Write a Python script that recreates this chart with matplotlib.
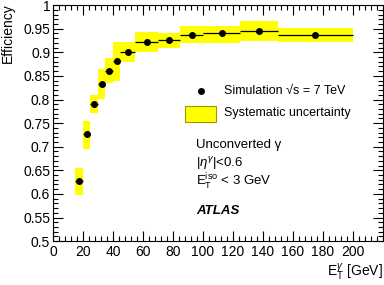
import numpy as np
import matplotlib
matplotlib.use("Agg")
import matplotlib.pyplot as plt
from matplotlib.patches import Rectangle
from matplotlib.ticker import MultipleLocator, FixedLocator

plt.rcParams['font.family'] = ['Liberation Sans', 'DejaVu Sans']
plt.rcParams['mathtext.fontset'] = 'custom'
plt.rcParams['mathtext.rm'] = 'Liberation Sans'
plt.rcParams['mathtext.it'] = 'Liberation Sans:italic'

# data
bin_lo = [15, 20, 25, 30, 35, 40, 45, 55, 70, 85, 100, 125, 150]
bin_hi = [20, 25, 30, 35, 40, 45, 55, 70, 85, 100, 125, 150, 200]
eff = [0.627, 0.726, 0.790, 0.832, 0.860, 0.881, 0.901, 0.922, 0.927, 0.937, 0.940, 0.945, 0.937]
sys_lo = [0.597, 0.696, 0.771, 0.801, 0.834, 0.839, 0.880, 0.901, 0.910, 0.919, 0.920, 0.924, 0.921]
sys_hi = [0.654, 0.754, 0.809, 0.864, 0.888, 0.922, 0.922, 0.944, 0.942, 0.955, 0.955, 0.967, 0.951]
x_ticks = [0, 20, 40, 60, 80, 100, 120, 140, 160, 180, 200]

lo = np.array(bin_lo)
hi = np.array(bin_hi)
centers = (lo + hi) / 2
half = (hi - lo) / 2

fig = plt.figure(figsize=(3.84, 2.85), dpi=100)
ax = fig.add_axes([0.138, 0.154, 0.859, 0.828])

yellow = '#ffff00'
for i in range(len(bin_lo)):
    ax.add_patch(Rectangle((bin_lo[i], sys_lo[i]), bin_hi[i] - bin_lo[i],
                           sys_hi[i] - sys_lo[i], facecolor=yellow, edgecolor='none', zorder=1))

ax.errorbar(centers, eff, xerr=half, fmt='o', color='black', markersize=4,
            elinewidth=0.9, capsize=0, zorder=3)

ax.set_xlim(0, 220)
ax.set_ylim(0.5, 1.0)
ax.xaxis.set_major_locator(FixedLocator(x_ticks))
ax.xaxis.set_minor_locator(MultipleLocator(4))
ax.yaxis.set_major_locator(MultipleLocator(0.05))
ax.yaxis.set_minor_locator(MultipleLocator(0.01))
ax.yaxis.set_major_formatter(matplotlib.ticker.FuncFormatter(lambda v, p: ('%g' % round(v, 2))))
ax.tick_params(which='both', direction='in', top=True, right=True, labelsize=10, pad=2)
ax.tick_params(which='major', length=7, width=0.8)
ax.tick_params(which='minor', length=3.5, width=0.8)
ax.tick_params(axis='x', pad=3)
for s in ax.spines.values():
    s.set_linewidth(0.8)

fig.text(0.02, 0.99, 'Efficiency', rotation=90, ha='center', va='top', fontsize=10)
fig.text(0.998, 0.045, r'E$_{\mathrm{T}}^{\gamma}$ [GeV]', ha='right', va='center', fontsize=10)

# legend
ax.plot([98.4], [0.8184], 'o', color='black', markersize=4)
ax.text(114, 0.8184, 'Simulation √s = 7 TeV', va='center', fontsize=9)
ax.add_patch(Rectangle((88, 0.753), 20.8, 0.033, facecolor=yellow, edgecolor='#999900', linewidth=0.8))
ax.text(114, 0.771, 'Systematic uncertainty', va='center', fontsize=9)

ax.text(95.5, 0.7026, 'Unconverted γ', va='center', fontsize=9.5)
ax.text(95.5, 0.6652, r'$|\eta^{\gamma}|$<0.6', va='center', fontsize=9.5)
ax.text(95.5, 0.6250, r'E$_{\mathrm{T}}^{\mathrm{iso}}$ < 3 GeV', va='center', fontsize=9.5)
ax.text(95.5, 0.5633, 'ATLAS', va='center', fontsize=9.5, fontweight='bold', fontstyle='italic')

fig.savefig('out.png', dpi=100)
